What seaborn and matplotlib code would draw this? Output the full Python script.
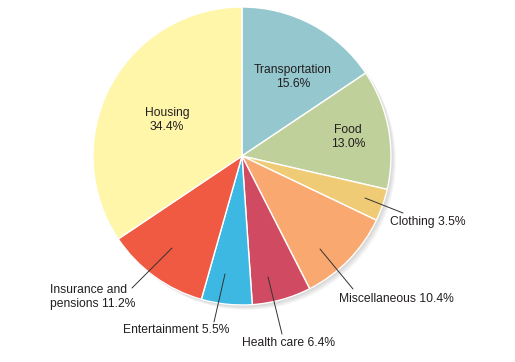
import matplotlib
matplotlib.use("Agg")
import matplotlib.pyplot as plt
import seaborn as sns

categories = ["Transportation", "Food", "Clothing", "Miscellaneous",
              "Health care", "Entertainment", "Insurance and\npensions", "Housing"]
shares = [15.6, 13.0, 3.5, 10.4, 6.4, 5.5, 11.2, 34.4]
hex_colors = ["#95C7CF", "#C0D09A", "#EFCB75", "#F9A870",
              "#D04B61", "#3DB8E2", "#F05A42", "#FFF6AA"]

sns.set_style("white")
plt.rcParams["font.family"] = ["Liberation Sans", "DejaVu Sans"]
colors = sns.color_palette(hex_colors)

W, H = 515, 362
fig = plt.figure(figsize=(W / 100, H / 100), dpi=100)
ax = fig.add_axes([0, 0, 1, 1])

cx, cy, r = 242, H - 156, 149

# soft shadow beneath the pie
for d in [1, 2, 3, 4, 5]:
    ax.pie([1], colors=["black"], center=(cx + d, cy - d), radius=r,
           wedgeprops=dict(linewidth=0, alpha=0.035))

wedges, _ = ax.pie(shares, colors=colors, startangle=90, counterclock=False,
                   center=(cx, cy), radius=r,
                   wedgeprops=dict(edgecolor="white", linewidth=1.0))
ax.set_xlim(0, W)
ax.set_ylim(0, H)
ax.set_aspect("equal")
ax.axis("off")

fs = 8.7
txt = "#231F20"
# labels inside slices: (index, x, y) in pixel coords from the top
inside = [(0, 293, 77), (1, 348, 137), (7, 167, 120)]
for i, x, y in inside:
    ax.text(x, H - y, f"{categories[i]}\n{shares[i]:.1f}%", ha="center", va="center",
            fontsize=fs, color=txt, linespacing=1.15)

# outside labels with leader lines: index, line start, line end, text pos
outside = [
    (2, (365, 198), (403, 213), (390, 222)),
    (3, (320, 249), (353, 289), (339, 299)),
    (4, (268, 277), (282, 334), (242, 343)),
    (5, (225, 274), (214, 322), (123, 330)),
    (6, (172, 248), (132, 288), (50, 297)),
]
for i, p0, p1, tp in outside:
    ax.plot([p0[0], p1[0]], [H - p0[1], H - p1[1]], color="#333333", lw=0.7)
    ax.text(tp[0], H - tp[1], f"{categories[i]} {shares[i]:.1f}%", ha="left", va="center",
            fontsize=fs, color=txt, linespacing=1.15)

fig.savefig("out.png", dpi=100, facecolor="white")
